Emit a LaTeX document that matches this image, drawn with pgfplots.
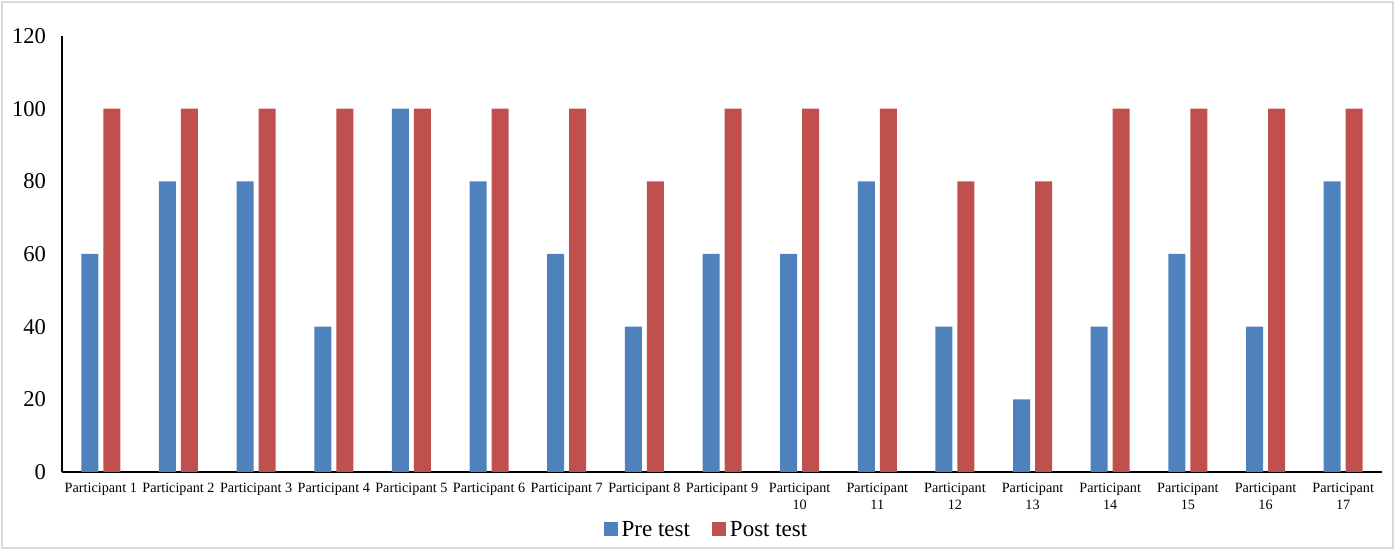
\documentclass[border=0pt]{standalone}
\usepackage{pgfplots}
\pgfplotsset{compat=1.18}
\usepackage{fontspec}
\setmainfont{Liberation Serif}
\definecolor{preblue}{HTML}{4F81BD}
\definecolor{postred}{HTML}{C0504D}
\begin{document}
\begin{tikzpicture}
\useasboundingbox (0,0) rectangle (698.5pt,274.5pt);
\draw[gray!30, line width=0.8pt] (1pt,0.5pt) rectangle (696.5pt,273.5pt);
\begin{axis}[
  at={(31pt,38.5pt)}, anchor=south west,
  scale only axis, width=660pt, height=218pt,
  xmin=0.5, xmax=17.5, ymin=0, ymax=120,
  axis x line=bottom, axis y line=left,
  axis line style={-, black, line width=0.8pt},
  ytick={0,20,...,120},
  major tick length=0pt,
  xtick={1,...,17},
  xticklabels={Participant 1,Participant 2,Participant 3,Participant 4,Participant 5,Participant 6,Participant 7,Participant 8,Participant 9,Participant\\10,Participant\\11,Participant\\12,Participant\\13,Participant\\14,Participant\\15,Participant\\16,Participant\\17},
  x tick label style={font=\fontsize{7.1pt}{8.5pt}\selectfont, align=center, yshift=-2pt},
  y tick label style={font=\fontsize{11.3pt}{13pt}\selectfont, xshift=-4.5pt},
  /pgf/number format/assume math mode=true,
  bar width=8.5pt,
  legend style={at={(axis description cs:0.489,-0.133)}, anchor=center, draw=none,
    legend columns=2, font=\fontsize{11.5pt}{13pt}\selectfont,
    /tikz/every even column/.append style={column sep=9pt}},
  legend image code/.code={\fill[#1] (0pt,-3pt) rectangle (7pt,4pt);},
]
\addplot[ybar, bar shift=-5.5pt, fill=preblue, draw=none] coordinates {
(1,60) (2,80) (3,80) (4,40) (5,100) (6,80) (7,60) (8,40) (9,60) (10,60) (11,80) (12,40) (13,20) (14,40) (15,60) (16,40) (17,80)};
\addlegendentry{Pre test}
\addplot[ybar, bar shift=5.5pt, fill=postred, draw=none] coordinates {
(1,100) (2,100) (3,100) (4,100) (5,100) (6,100) (7,100) (8,80) (9,100) (10,100) (11,100) (12,80) (13,80) (14,100) (15,100) (16,100) (17,100)};
\addlegendentry{Post test}
\end{axis}
\end{tikzpicture}
\end{document}
